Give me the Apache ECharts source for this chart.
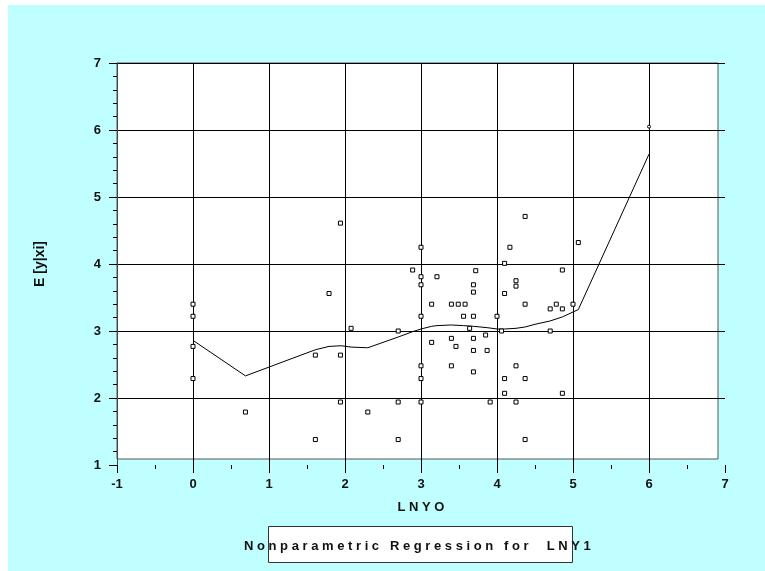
<!DOCTYPE html>
<html>
<head>
<meta charset="utf-8">
<script src="https://cdn.jsdelivr.net/npm/echarts@6/dist/echarts.min.js"></script>
<style>
  body { margin: 0; background: #fff; }
  #chart { position: absolute; left: 8px; top: 5px; width: 757px; height: 566px; }
</style>
</head>
<body>
<div id="chart"></div>
<script>
// observed points
var obsX = [0, 0, 0, 0, 0.69, 1.61, 1.61, 1.79, 1.94, 1.94, 1.94, 2.08, 2.30,
  2.70, 2.70, 2.70, 2.89, 3.0, 3.0, 3.0, 3.0, 3.0, 3.0, 3.0, 3.14, 3.14, 3.21,
  3.40, 3.40, 3.40, 3.46, 3.49, 3.56, 3.58, 3.64, 3.69, 3.69, 3.69, 3.69, 3.69,
  3.69, 3.72, 3.85, 3.87, 3.91, 4.0, 4.06, 4.10, 4.10, 4.10, 4.10, 4.17, 4.25,
  4.25, 4.25, 4.25, 4.37, 4.37, 4.37, 4.37, 4.70, 4.70, 4.78, 4.86, 4.86, 4.86,
  5.0, 5.07];
var obsY = [3.40, 3.22, 2.77, 2.29, 1.79, 2.64, 1.38, 3.56, 4.61, 2.64, 1.94, 3.04, 1.79,
  3.0, 1.94, 1.38, 3.91, 4.25, 3.81, 3.69, 3.22, 2.48, 2.29, 1.94, 3.40, 2.83, 3.81,
  3.40, 2.89, 2.48, 2.77, 3.40, 3.22, 3.40, 3.04, 3.69, 3.58, 3.22, 2.89, 2.71,
  2.39, 3.90, 2.94, 2.71, 1.94, 3.22, 3.0, 4.01, 3.56, 2.29, 2.07, 4.25, 3.75,
  3.67, 2.48, 1.94, 4.71, 3.40, 2.29, 1.38, 3.33, 3.0, 3.40, 3.91, 3.33, 2.07,
  3.40, 4.32];

// single point at the far right
var extraX = [6.0];
var extraY = [6.05];

// nonparametric fit
var fitX = [0, 0.69, 1.61, 1.79, 1.95, 2.08, 2.30, 2.70, 2.89, 3.0, 3.14, 3.21, 3.40,
  3.56, 3.69, 3.87, 4.0, 4.10, 4.25, 4.37, 4.50, 4.70, 4.86, 5.07, 6.0];
var fitY = [2.86, 2.33, 2.72, 2.77, 2.78, 2.76, 2.75, 2.91, 2.99, 3.03, 3.07, 3.08, 3.09,
  3.08, 3.07, 3.05, 3.03, 3.03, 3.04, 3.06, 3.10, 3.15, 3.21, 3.32, 5.64];

var xTicks = [-1, 0, 1, 2, 3, 4, 5, 6, 7];
var yTicks = [1, 2, 3, 4, 5, 6, 7];

function pairs(xs, ys) {
  return xs.map(function (x, i) { return [x, ys[i]]; });
}

var font = '"Liberation Sans", Arial, sans-serif';
var myChart = echarts.init(document.getElementById('chart'));

// gridline colours: hide the last vertical one and the bottom horizontal one
var xSplitColors = xTicks.map(function (v, i) { return i === xTicks.length - 1 ? 'rgba(0,0,0,0)' : '#000'; });
var ySplitColors = yTicks.map(function (v, i) { return i === 0 ? 'rgba(0,0,0,0)' : '#000'; });

var option = {
  animation: false,
  backgroundColor: '#c0ffff',
  title: {
    text: 'N o n p a r a m e t r i c   R e g r e s s i o n   f o r     L N Y 1',
    left: 236,
    top: 535,
    padding: 0,
    textStyle: { fontFamily: font, fontSize: 13, fontWeight: 'bold', color: '#111' }
  },
  graphic: [
    {
      type: 'rect', z: -10, silent: true,
      shape: { x: 109, y: 58, width: 601, height: 396 },
      style: { fill: '#fff', stroke: '#555', lineWidth: 1 }
    },
    {
      type: 'rect', z: -10, silent: true,
      shape: { x: 260.5, y: 521.5, width: 304, height: 36 },
      style: { fill: '#fff', stroke: '#333', lineWidth: 1 }
    }
  ],
  grid: { left: 109, top: 58, right: 40, bottom: 106 },
  xAxis: {
    type: 'value',
    min: xTicks[0],
    max: xTicks[xTicks.length - 1],
    interval: 1,
    name: 'L N Y O',
    nameLocation: 'middle',
    nameGap: 36,
    nameTextStyle: { fontFamily: font, fontSize: 13, fontWeight: 'bold', color: '#111' },
    axisLine: { show: false, onZero: false },
    axisTick: { show: true, length: 8, lineStyle: { color: '#000' } },
    minorTick: { show: true, splitNumber: 2, length: 4, lineStyle: { color: '#000' } },
    axisLabel: { margin: 13, fontFamily: font, fontSize: 13, fontWeight: 'bold', color: '#111' },
    splitLine: { show: true, lineStyle: { color: xSplitColors, width: 1 } }
  },
  yAxis: {
    type: 'value',
    min: yTicks[0],
    max: yTicks[yTicks.length - 1],
    interval: 1,
    name: 'E [y|xi]',
    nameLocation: 'middle',
    nameGap: 70,
    nameRotate: 90,
    nameTextStyle: { fontFamily: font, fontSize: 14, fontWeight: 'bold', color: '#111' },
    axisLine: { show: true, onZero: false, lineStyle: { color: '#444' } },
    axisTick: { show: true, length: 8, lineStyle: { color: '#000' } },
    minorTick: { show: true, splitNumber: 5, length: 4, lineStyle: { color: '#000' } },
    axisLabel: { margin: 16, fontFamily: font, fontSize: 13, fontWeight: 'bold', color: '#111' },
    splitLine: { show: true, lineStyle: { color: ySplitColors, width: 1 } }
  },
  series: [
    {
      name: 'fit',
      type: 'line',
      data: pairs(fitX, fitY),
      showSymbol: false,
      symbol: 'none',
      lineStyle: { color: '#000', width: 1 },
      z: 3
    },
    {
      name: 'observed',
      type: 'scatter',
      data: pairs(obsX, obsY),
      symbol: 'rect',
      symbolSize: 4,
      itemStyle: { color: '#fff', borderColor: '#000', borderWidth: 1, opacity: 1 },
      z: 4
    },
    {
      name: 'extra',
      type: 'scatter',
      data: pairs(extraX, extraY),
      symbol: 'circle',
      symbolSize: 3,
      itemStyle: { color: '#fff', borderColor: '#000', borderWidth: 1, opacity: 1 },
      z: 4
    }
  ]
};

option && myChart.setOption(option);
</script>
</body>
</html>
